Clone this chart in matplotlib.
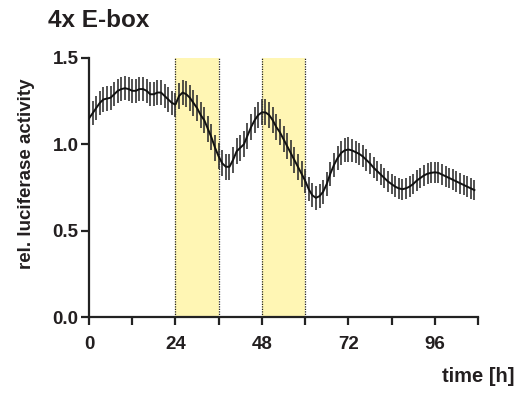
import numpy as np
import matplotlib
matplotlib.use('Agg')
import matplotlib.pyplot as plt

plt.rcParams['font.family'] = ['Liberation Sans', 'DejaVu Sans']
plt.rcParams['font.weight'] = 'bold'

TXT = '#231f20'

# hourly means (rel. luciferase activity), t = 0..107 h
hours = list(range(108))
mean = [1.15, 1.18, 1.21, 1.24, 1.26, 1.265, 1.27, 1.29, 1.31, 1.32,
        1.325, 1.32, 1.31, 1.31, 1.32, 1.32, 1.31, 1.29, 1.29, 1.30,
        1.30, 1.28, 1.26, 1.24, 1.23, 1.28, 1.30, 1.29, 1.27, 1.24,
        1.21, 1.17, 1.14, 1.09, 1.04, 0.98, 0.93, 0.89, 0.87, 0.87,
        0.91, 0.96, 0.98, 1.00, 1.05, 1.10, 1.14, 1.17, 1.185, 1.185,
        1.17, 1.14, 1.10, 1.07, 1.03, 0.99, 0.95, 0.91, 0.87, 0.83,
        0.79, 0.74, 0.705, 0.69, 0.70, 0.725, 0.77, 0.83, 0.88, 0.92,
        0.95, 0.965, 0.97, 0.965, 0.955, 0.945, 0.93, 0.91, 0.89, 0.865,
        0.845, 0.825, 0.805, 0.785, 0.77, 0.755, 0.745, 0.74, 0.745, 0.755,
        0.77, 0.79, 0.805, 0.82, 0.83, 0.835, 0.838, 0.835, 0.825, 0.815,
        0.805, 0.795, 0.785, 0.775, 0.765, 0.755, 0.745, 0.735]
sem = [0.07, 0.07, 0.07, 0.07, 0.07, 0.07, 0.07, 0.07, 0.07, 0.07,
       0.07, 0.07, 0.07, 0.07, 0.07, 0.07, 0.07, 0.07, 0.07, 0.07,
       0.07, 0.07, 0.07, 0.07, 0.07, 0.075, 0.075, 0.075, 0.075, 0.075,
       0.075, 0.075, 0.075, 0.075, 0.075, 0.075, 0.075, 0.075, 0.075, 0.075,
       0.075, 0.075, 0.075, 0.075, 0.075, 0.075, 0.075, 0.075, 0.075, 0.075,
       0.075, 0.075, 0.075, 0.075, 0.075, 0.075, 0.075, 0.075, 0.075, 0.075,
       0.07, 0.07, 0.07, 0.07, 0.07, 0.07, 0.07, 0.07, 0.07, 0.07,
       0.07, 0.07, 0.07, 0.068, 0.066, 0.065, 0.064, 0.063, 0.062, 0.061,
       0.06, 0.06, 0.06, 0.06, 0.06, 0.06, 0.06, 0.06, 0.06, 0.06,
       0.06, 0.06, 0.06, 0.06, 0.06, 0.06, 0.06, 0.06, 0.06, 0.06,
       0.06, 0.06, 0.06, 0.06, 0.06, 0.06, 0.06, 0.06]
shade = [(24, 36), (48, 60)]
xticks = [0, 12, 24, 36, 48, 60, 72, 84, 96, 108]
xlabels = ['0', '', '24', '', '48', '', '72', '', '96', '']

fig = plt.figure(figsize=(5.18, 3.95), dpi=100)
ax = fig.add_axes([89 / 518, 78 / 395, 389 / 518, 259 / 395])

for a, b in shade:
    ax.axvspan(a, b, ymin=0, ymax=1, color='#fff6b4', lw=0, zorder=0)
    for xv in (a, b):
        ax.plot([xv, xv], [0, 1.5], ls=(0, (1, 1)), color='#222222', lw=0.9, zorder=1)

ax.errorbar(hours, mean, yerr=sem, fmt='none', ecolor='#333333', elinewidth=1.2,
            capsize=0, zorder=2)
ax.plot(hours, mean, color='#111111', lw=1.4, zorder=3)

ax.set_xlim(0, 108)
ax.set_ylim(0, 1.5)
ax.set_xticks(xticks)
ax.set_xticklabels(xlabels)
ax.set_yticks([0, 0.5, 1.0, 1.5])
ax.set_yticklabels(['0.0', '0.5', '1.0', '1.5'])
for s in ('top', 'right'):
    ax.spines[s].set_visible(False)
for s in ('left', 'bottom'):
    ax.spines[s].set_linewidth(1.6)
    ax.spines[s].set_color('#222222')
ax.tick_params(axis='x', direction='out', length=6, width=1.6, color='#222222',
               pad=8, labelsize=13.5, labelcolor=TXT)
ax.tick_params(axis='y', direction='out', length=6, width=1.6, color='#222222',
               pad=1.5, labelsize=13.5, labelcolor=TXT)

fig.text(48 / 518, 1 - 27 / 395, '4x E-box', fontsize=17.5, fontweight='bold',
         color=TXT, ha='left', va='baseline')
fig.text(27 / 518, 1 - 174 / 395, 'rel. luciferase activity', fontsize=13.5,
         fontweight='bold', color=TXT, rotation=90, ha='center', va='center')
fig.text(515 / 518, 1 - 382 / 395, 'time [h]', fontsize=14.5, fontweight='bold',
         color=TXT, ha='right', va='baseline')

fig.savefig('out.png', dpi=100)
